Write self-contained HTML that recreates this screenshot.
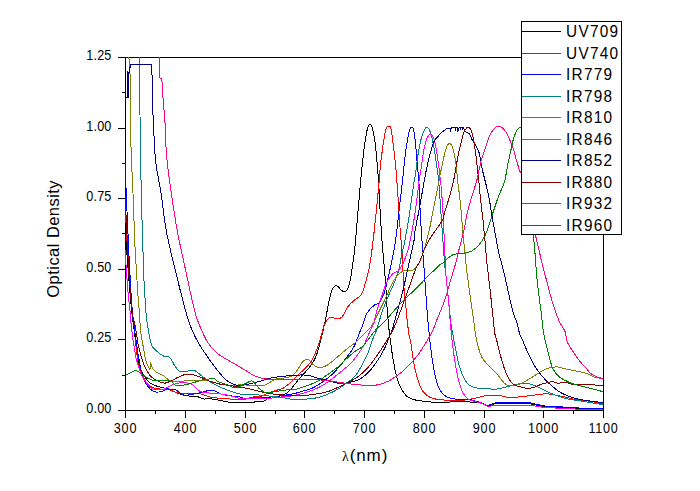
<!DOCTYPE html>
<html lang="en">
<head>
<meta charset="utf-8">
<title>Optical Density vs wavelength</title>
<style>
html,body{margin:0;padding:0;background:#fff;}
body{width:700px;height:491px;overflow:hidden;}
svg{display:block;}
</style>
</head>
<body>
<svg width="700" height="491" viewBox="0 0 700 491">
<rect width="700" height="491" fill="#fff"/>
<g fill="#000" shape-rendering="crispEdges">
<rect x="125" y="57" width="1" height="354"/>
<rect x="603" y="57" width="1" height="354"/>
<rect x="118" y="57" width="486" height="1"/>
<rect x="118" y="410" width="486" height="1"/>
<rect x="122" y="375" width="3" height="1"/>
<rect x="118" y="339" width="7" height="1"/>
<rect x="122" y="304" width="3" height="1"/>
<rect x="118" y="269" width="7" height="1"/>
<rect x="122" y="233" width="3" height="1"/>
<rect x="118" y="198" width="7" height="1"/>
<rect x="122" y="163" width="3" height="1"/>
<rect x="118" y="128" width="7" height="1"/>
<rect x="122" y="92" width="3" height="1"/>
<rect x="125" y="411" width="1" height="7"/>
<rect x="155" y="411" width="1" height="3"/>
<rect x="185" y="411" width="1" height="7"/>
<rect x="215" y="411" width="1" height="3"/>
<rect x="245" y="411" width="1" height="7"/>
<rect x="275" y="411" width="1" height="3"/>
<rect x="304" y="411" width="1" height="7"/>
<rect x="334" y="411" width="1" height="3"/>
<rect x="364" y="411" width="1" height="7"/>
<rect x="394" y="411" width="1" height="3"/>
<rect x="424" y="411" width="1" height="7"/>
<rect x="454" y="411" width="1" height="3"/>
<rect x="484" y="411" width="1" height="7"/>
<rect x="513" y="411" width="1" height="3"/>
<rect x="543" y="411" width="1" height="7"/>
<rect x="573" y="411" width="1" height="3"/>
<rect x="603" y="411" width="1" height="7"/>
</g>
<g fill="none" stroke-width="1" stroke-linejoin="round" shape-rendering="crispEdges">
<path stroke="#000000" d="M125.5,186C125.6,195.7 125.7,205.3 125.8,215C125.9,223.3 126,231.7 126.3,240C126.5,246 126.8,252 127.2,258C127.5,263.3 128.1,268.7 128.5,274C129,280.3 129.4,286.7 130,293C130.6,300 131.2,307 132,314C132.6,319.3 133.5,324.7 134.2,330C135.1,336.7 135.6,343.4 136.6,350C137.4,355.4 138.4,360.8 139.7,366C140.3,368.4 141.4,370.8 142.5,373C143.4,374.8 144.5,376.4 145.7,378C146.7,379.4 147.8,380.8 149,382C150.1,383 151.3,383.9 152.6,384.5C155.3,385.7 158.3,386.7 161.2,387.5C164,388.3 167,388.3 169.7,389.2C171.2,389.7 172.5,390.8 174,391.5C175.4,392.2 176.8,393 178.3,393.5C181.7,394.5 185.1,395.4 188.6,396C191.4,396.5 194.4,396.1 197.2,396.6C199.5,397.1 201.7,398.6 204,399C205.7,399.3 207.5,398.5 209.2,398.6C212.1,398.8 214.9,399.5 217.8,400C221.2,400.6 224.6,401.6 228,402C232,402.4 236,402.2 240,402.4C241.5,402.5 242.9,403 244.4,402.9C248.7,402.7 253,402.2 257.3,401.7C260,401.4 263.2,401.6 265.5,400.6C266.4,400.2 265.8,398 266.7,397.7C270.5,396.5 275.4,396.9 279.6,396C282,395.5 284.4,394.7 286.4,393.4C288.4,392.1 290,390.1 291.6,388.3C294,385.6 296,382.5 298.4,379.7C300.6,377.1 303,374.6 305.3,372C307,370 308.9,368.1 310.4,366C312.3,363.3 314.3,360.5 315.6,357.4C317.5,353 318.6,348.3 319.9,343.7C320.9,340.3 321.6,336.8 322.4,333.4C323.5,328.5 324.7,323.5 325.7,318.6C326.6,314 327.3,309.4 328.3,304.9C329.3,300.2 330.1,295.5 331.7,291C332.4,289.1 333.6,286.8 335,285.7C335.6,285.2 337,285.8 337.7,286.3C339.3,287.5 340.3,289.9 342,290.8C343.2,291.4 345.5,291.7 346.3,290.8C348,289 349,285.5 349.7,282.6C351,277.5 351.5,272.2 352.3,267C353.1,261.3 354,255.7 354.6,250C355.6,241 356.2,231.9 357,222.9C357.8,213.3 358.7,203.6 359.5,194C360.1,187.7 360.6,181.3 361.2,175C362.1,166.5 362.9,157.9 364,149.4C364.7,143.7 365.5,138 366.6,132.3C367,130.3 367.5,128.2 368.3,126.3C368.6,125.6 369.4,124.6 370,124.6C370.6,124.6 371.5,125.6 371.7,126.3C372.9,129.8 373.6,133.7 374.3,137.4C375.1,141.9 375.5,146.5 376,151C376.7,157.3 377.2,163.7 377.7,170C378.1,175 378.5,180 378.8,185C379.4,194.8 379.7,204.5 380.3,214.3C381,225.7 381.7,237.2 382.6,248.6C383,253.7 383.6,258.9 384,264C384.6,270.8 385.2,277.5 385.7,284.3C386.1,290 386.2,295.7 386.6,301.4C387.1,308.3 387.7,315.1 388.3,322C388.7,326 389,330 389.5,334C389.9,337.8 390.4,341.6 391,345.4C391.8,351.1 392.6,356.9 393.7,362.6C394.6,367.8 395.5,373 397,378C398.1,381.8 399.6,385.5 401.4,389C402.8,391.5 404.5,394.1 406.6,396C408.5,397.6 411,398.7 413.4,399.5C416.1,400.4 419.1,400.6 422,401C424.9,401.4 427.7,401.9 430.6,402C437.1,402.2 443.5,402 450,402C456.7,402 463.3,401.8 470,402C474,402.2 478.1,402.3 482,403.2C483.9,403.6 485.5,405.4 487.3,405.8C488.4,406 489.6,405.3 490.7,405C492.4,404.6 494.1,403.9 495.9,403.8C501.6,403.4 507.3,403.5 513,403.5C518.7,403.5 524.4,403.3 530,403.8C533.5,404.1 536.9,405.3 540.4,405.8C543.8,406.3 547.3,406.7 550.7,407C556.4,407.5 562.2,407.8 567.9,408.2C573.6,408.6 579.3,409 585,409.3C591,409.6 597,409.8 603,410"/>
<path stroke="#ff0000" d="M125.5,214C125.8,218.7 126,223.3 126.3,228C126.6,234 126.9,240 127.3,246C127.7,251.3 128.2,256.7 128.6,262C128.9,266 129.2,270 129.5,274C130,281 130.5,288 131,295C131.6,302 132.1,309 132.8,316C133.3,321.3 134.2,326.7 134.8,332C135.7,340.7 136.3,349.4 137.3,358C137.6,360.7 138,363.5 138.9,366C140.8,371.3 142.7,376.8 145.7,381.5C147.3,384 150,386.2 152.6,387.5C155.1,388.8 158.3,388.8 161.2,389.2C164,389.6 166.9,389.4 169.7,390C172.1,390.5 174.2,392 176.6,392.6C179.4,393.3 182.3,393.7 185.2,393.8C188.6,394 192.1,393.4 195.5,393.5C197.8,393.6 200.1,393.8 202.3,394.3C204.7,394.9 206.8,396.3 209.2,396.9C212.6,397.7 216.1,397.9 219.5,398.3C222.9,398.6 226.4,398.8 229.8,399C233.2,399.2 236.6,399.4 240,399.5C241.7,399.5 243.4,399.6 245,399.3C247.4,398.8 249.6,397.7 252,397.2C255.4,396.6 259,396.8 262.4,396C263.9,395.6 265.2,394.4 266.7,393.8C269.2,392.7 271.8,391.8 274.4,390.9C277.2,389.9 280.4,389.6 283,388.3C285.5,387 287.7,384.9 289.9,383C292.3,380.9 294.4,378.5 296.7,376.3C299,374.1 301.4,372 303.6,369.8C305.9,367.5 308.6,365.3 310.4,362.6C312.6,359.5 314.1,355.8 315.6,352.3C317.3,348.4 318.6,344.3 319.9,340.3C321,336.9 321.9,333.4 322.8,330C323.2,328.5 323.3,326.8 324,325.4C325.2,323 326.5,320.5 328.3,318.6C329.1,317.7 330.5,317.2 331.7,317.2C333.7,317.3 335.8,319.1 337.7,319C339.2,319 341,318.1 342,316.9C344.4,314 345.6,309.8 348,306.6C349.9,304 352.5,301.8 354.9,299.7C356.8,298.1 359.6,297.4 360.9,295.4C363,292.2 363.8,288.1 365,284.3C366.4,279.8 367.6,275.2 368.6,270.6C369.6,266.1 370.3,261.5 371,256.9C371.6,252.9 372.1,249 372.6,245C373.8,234.8 374.9,224.5 376,214.3C377,204.5 377.9,194.8 378.8,185C379.4,178.9 379.7,172.7 380.3,166.6C381,159.7 381.9,152.8 382.9,146C383.6,141.1 384.4,136.2 385.4,131.4C385.7,129.8 386.2,128.1 387,126.8C387.3,126.4 388,126.3 388.5,126.3C389.2,126.3 390.4,126.3 390.6,127C391.9,131.8 392.3,137.4 393,142.6C394,150.6 394.9,158.6 395.7,166.6C396.2,171.1 396.5,175.5 396.8,180C397.2,185.7 397.6,191.3 398,197C398.4,202.8 398.6,208.5 399,214.3C399.7,224.5 400.7,234.8 401.4,245C401.9,251.3 402.2,257.7 402.6,264C403,270.8 403.2,277.5 403.7,284.3C404.1,290 404.9,295.7 405.4,301.4C406,307.1 406.4,312.9 407,318.6C407.6,323.7 408.1,328.9 408.9,334C409.4,337.3 410.4,340.4 410.9,343.7C411.9,349.4 412.4,355.2 413.4,360.9C414.4,366.1 415.5,371.2 416.9,376.3C418,380.4 419.1,384.6 421,388.3C422.3,390.8 424.2,393.2 426.3,395C428,396.5 430.2,397.5 432.3,398.2C435,399.1 438,399.5 440.9,399.8C444.9,400.2 448.9,400.3 452.9,400.3C456.9,400.3 461,400.3 465,400C467.9,399.8 470.8,399.2 473.6,398.6C476.4,398 479.2,397.1 482,396.5C484.3,396 486.6,395.3 489,395.2C492.4,395 495.9,395.1 499.3,395.5C502.8,395.9 506.1,397.4 509.6,397.7C511.8,397.9 514.1,397.4 516.4,397.2C519.8,396.9 523.3,396.4 526.7,396C530.1,395.6 533.6,395.2 537,394.8C540.4,394.4 543.9,393.7 547.3,393.8C550.2,393.9 553,394.7 555.9,395.2C558.7,395.7 561.6,396.3 564.4,396.9C567.8,397.7 571.2,398.8 574.7,399.4C578.1,400 581.6,400.1 585,400.6C591,401.5 597,402.6 603,403.6"/>
<path stroke="#0000ff" d="M125,163C125.5,175.3 126,187.7 126.5,200C127,211.3 127.5,222.7 128,234C128.6,247.7 129.2,261.3 130,275C130.7,288 131.4,301 132.5,314C132.9,319.4 133.9,324.7 134.6,330C135.8,338.7 136.9,347.4 138.4,356C139.6,362.8 140.6,369.7 142.6,376.3C143.6,379.6 145.4,382.9 147.4,385.7C149,387.9 151.1,390.1 153.4,391.4C154.8,392.2 156.9,392.2 158.6,392C160.6,391.8 162.8,391.2 164.6,390.4C165.6,390 166.1,388.4 167,388.3C168.4,388.2 170,389.8 171.5,390C172.9,390.2 174.5,389.2 175.7,389.7C178.5,390.9 180.6,394.4 183.5,395.2C186.1,395.9 189.2,394.7 192,394.3C194.9,393.9 197.8,393.2 200.6,392.6C203.5,391.9 206.3,390.9 209.2,390.4C210.6,390.2 212.2,390 213.5,390.4C215.6,391 217.4,392.8 219.5,393.5C222.2,394.5 225.1,395 228,395.5C232,396.2 236.1,396.2 240,396.9C241.8,397.2 243.5,398.5 245.3,398.6C248.7,398.8 252.2,397.9 255.6,397.7C259,397.5 262.5,397.4 265.9,397.2C270.5,396.9 275.1,396.6 279.6,396C284.2,395.4 288.8,394.8 293.3,393.8C296.8,393.1 300.2,391.9 303.6,390.9C306.4,390.1 309.3,389.5 312,388.3C315,386.9 317.9,385.1 320.7,383.2C324.3,380.8 327.8,378.3 331,375.4C334.7,372 338.1,368.2 341.3,364.3C344.9,359.9 348.3,355.3 351.6,350.6C352.9,348.7 354.1,346.7 355,344.6C356.5,341.2 357.6,337.5 359,334C360.1,331.1 361.5,328.3 362.6,325.4C363.9,322 364.5,318.3 366,315C367,312.8 368.7,310.9 370.3,309C371.6,307.5 373,306.1 374.6,305C375.9,304.1 377.8,304.1 378.9,303C380.6,301.2 381.9,298.7 383,296.3C384.2,293.6 384.9,290.6 385.7,287.7C386.9,283.2 387.9,278.6 389,274C389.9,270 390.9,266 391.7,262C392.5,258 393.3,254 394,250C394.6,246.7 395.3,243.4 395.7,240C396.9,230.3 397.9,220.6 399,210.9C400.2,200.6 401.4,190.3 402.6,180C403,176.7 403.2,173.3 403.6,170C404.4,163.1 405,156.2 406,149.4C406.7,144.2 407.6,139.1 408.6,134C409,132.1 409.5,130.2 410.3,128.5C410.5,128 411.2,127.4 411.7,127.5C412.3,127.6 413.2,128.2 413.4,128.9C414.5,133.2 414.9,138 415.4,142.6C416.1,148.8 416.4,155.1 417,161.4C417.6,168.3 418.5,175.1 418.9,182C419.6,192.8 419.7,203.5 420.3,214.3C420.9,224.5 421.6,234.8 422.3,245C422.7,251.3 423.2,257.7 423.7,264C424,267.9 424.3,271.8 424.6,275.7C425.4,287.1 426.1,298.6 427,310C427.6,318 428.4,326 429.2,334C429.6,338.3 430.1,342.7 430.6,347C431.3,352.8 432.1,358.6 433,364.3C433.8,368.9 434.6,373.5 435.7,378C436.6,381.5 437.5,385.1 439,388.3C440,390.5 441.7,392.6 443.4,394.3C444.9,395.7 446.7,396.9 448.6,397.7C450.5,398.5 452.6,398.8 454.6,399C459.7,399.4 464.9,398.9 470,399.4C471.8,399.6 473.5,400.7 475.3,401.2C477.5,401.8 479.8,402.1 482,402.9C483.8,403.5 485.5,405 487.3,405.4C488.4,405.6 489.6,404.9 490.7,404.6C492.4,404.1 494.1,403.1 495.9,402.9C501.5,402.3 507.3,402.3 513,402.3C518.7,402.3 524.4,402.4 530,402.9C532,403.1 534,403.8 536,404.2C539,404.8 542,405.7 545,406C550,406.5 555,406.5 560,406.8C565,407.1 570,407.5 575,407.8C580,408.1 585,408.3 590,408.5C594.3,408.7 598.7,408.8 603,409"/>
<path stroke="#008080" d="M139.3,57C139.4,71 139.3,85 139.5,99C139.6,104.3 139.9,109.7 140,115C140.2,126.7 140.3,138.3 140.5,150C140.7,163.3 140.9,176.7 141.2,190C141.5,204 142,218 142.4,232C142.8,244 143.1,256 143.5,268C143.8,275.7 144.1,283.3 144.5,291C144.7,295.5 145.2,300 145.5,304.5C145.8,308.7 145.9,312.9 146.4,317C146.9,321.4 147.5,325.7 148.3,330C149.3,335.2 149.9,340.6 151.7,345.4C152.5,347.5 154.3,349.1 156,350.6C158.6,352.9 161.5,355.1 164.6,356.6C166.1,357.3 168.5,356.3 169.7,357.4C172,359.5 173,363.3 174.9,366C176.4,368.1 178,370.6 180,371.7C181.3,372.4 183.3,371.7 185,371.5C187.3,371.2 189.7,370.4 192,370.3C193.2,370.2 194.5,370.4 195.5,371C197.9,372.4 200,374.6 202.3,376.3C205.1,378.4 208,380.5 211,382.3C214.9,384.5 218.9,386.5 223,388.3C226.9,390 231,391.3 235,392.6C237.8,393.5 240.7,394.5 243.6,394.8C247.5,395.2 251.6,394.6 255.6,394.8C260.2,395 264.7,395.5 269.3,396C273.9,396.5 278.4,397 283,397.7C286.4,398.2 289.8,399.3 293.3,399.5C297.8,399.7 302.4,399.3 307,399C310.4,398.7 313.9,398.5 317.3,397.7C320.8,396.9 324.3,395.7 327.6,394.3C331.1,392.8 334.6,391.1 337.9,389.2C340.9,387.4 343.6,385.2 346.4,383.2C348.3,381.8 350.3,380.6 352,379C353.8,377.4 355.6,375.7 356.9,373.7C359.5,369.9 361.6,365.8 363.7,361.7C365.6,358.1 367.4,354.4 368.9,350.6C370.2,347.3 371,343.7 372.3,340.3C373.6,336.8 375.3,333.5 376.6,330C377.5,327.4 378.1,324.6 378.9,322C380.5,316.8 382.1,311.7 384,306.6C385.5,302.5 387.3,298.6 389,294.6C390.7,290.6 392.7,286.7 394.3,282.6C395.9,278.7 397.5,274.7 398.6,270.6C399.7,266.7 400.2,262.6 401,258.6C401.6,255.7 402.3,252.9 402.9,250C403.6,246.7 404.4,243.4 405,240C406.6,231.5 408.1,222.9 409.4,214.3C411.2,202.9 412.6,191.4 414.3,180C414.6,178.3 415.2,176.7 415.4,175C416.4,168.2 416.9,161.4 418,154.6C418.9,148.8 420,143 421.5,137.4C422.3,134.6 423.4,131.7 424.8,129.2C425.3,128.3 426.7,127.1 427.4,127.4C428.4,127.8 429.5,129.9 430,131.4C431.5,135.5 432.5,139.9 433.4,144.3C434.5,149.9 435.2,155.7 436,161.4C436.9,167.6 438,173.8 438.6,180C439.7,191.4 440.2,202.9 441,214.3C441.6,222.9 442.3,231.4 442.9,240C443.5,248 443.9,256 444.6,264C444.9,267.9 445.6,271.8 446,275.7C446.9,284.3 447.7,292.8 448.6,301.4C449.4,308.9 450.1,316.5 451,324C451.3,326.7 451.9,329.3 452.4,332C453.1,335.9 453.8,339.8 454.6,343.7C455.7,349.4 456.6,355.2 458,360.9C459.2,365.5 460.5,370.2 462.3,374.6C463.4,377.3 464.9,379.9 466.6,382.3C467.5,383.6 468.6,384.9 470,385.7C472.1,386.8 474.6,387.6 477,388C480.4,388.6 483.9,388.4 487.3,388.6C490.2,388.8 493.1,389.4 495.9,389.2C498.8,389 501.6,388.1 504.4,387.4C507.3,386.7 510.1,385.8 513,385.2C516.4,384.4 519.9,383.4 523.3,383.2C525.5,383 527.8,383.4 530,384C533,384.8 535.9,386.1 538.7,387.4C541.6,388.7 544.4,390.4 547.3,391.7C550.7,393.2 554.1,394.8 557.6,396C561,397.2 564.4,398.2 567.9,399C571.2,399.7 574.6,400.1 578,400.6C580.3,401 582.7,401.3 585,401.7C591,402.7 597,403.6 603,404.6"/>
<path stroke="#ff00ff" d="M125,250C125.5,257.3 126,264.7 126.5,272C127.1,279.7 127.6,287.3 128.3,295C128.9,301.3 129.7,307.7 130.3,314C130.8,319.3 131,324.7 131.7,330C133,339.7 134.2,349.5 136.3,359C137.5,364.3 139.2,369.6 141.4,374.6C142.9,378 145.1,381.2 147.4,384C149.1,386 151,388.3 153.4,389.2C156.2,390.2 159.9,390.1 162.9,389.7C164.4,389.5 165.6,388.2 167,387.5C169,386.5 170.9,385.3 173,384.5C175.2,383.7 177.6,383 180,382.8C182.8,382.6 185.8,382.7 188.6,383.2C190.2,383.5 191.7,384.3 193,385.2C195.7,387.1 197.7,390.3 200.6,391.7C203.1,392.9 206.2,392.7 209,393C213.7,393.5 218.4,393.6 223,394.3C226.4,394.8 229.7,395.7 233,396.5C235.3,397.1 237.6,398 240,398.4C242.9,398.9 245.8,399 248.7,399C254.4,399 260.2,398.9 265.9,398.6C270.5,398.3 275,397.7 279.6,397.2C284.2,396.7 288.8,396.5 293.3,395.7C296.8,395.1 300.2,394 303.6,393C307.1,392 310.6,391.1 313.9,389.7C317.4,388.2 320.8,386.5 324,384.5C327.6,382.3 331,379.6 334.4,377C337.9,374.3 341.3,371.4 344.7,368.6C346.5,367.2 348.4,365.9 350,364.3C352.5,361.6 354.7,358.7 356.9,355.7C359.3,352.4 361.8,349 363.7,345.4C366.3,340.5 368.2,335.1 370.6,330C371.6,327.9 373,325.9 373.7,323.7C375.1,319.3 375.7,314.5 377,310C378,306.5 379.4,303.1 380.6,299.7C381.8,296.3 382.8,292.8 384,289.4C385,286.5 385.9,283.5 387.4,280.9C388.8,278.4 390.5,275.9 392.6,274C394.3,272.5 397,272.2 398.6,270.6C400.5,268.7 401.7,266.1 402.9,263.7C404.3,260.9 405.2,257.9 406.3,255C406.9,253.4 407.5,251.7 408,250C408.9,246.7 409.7,243.4 410.3,240C412.1,230.3 414,220.6 415.4,210.9C416.9,200.6 417.8,190.3 419.2,180C419.6,177.2 420.2,174.5 420.6,171.7C421.8,164.3 422.5,156.8 424,149.4C424.8,145.3 425.7,141 427.4,137.4C428,136 429.9,134.3 431,134.3C431.9,134.3 433,136.2 433.4,137.4C434.6,140.7 435.3,144.2 436,147.7C437.1,153.4 437.8,159.2 438.6,164.9C439.3,169.9 439.7,175 440.3,180C440.5,181.8 440.8,183.6 441,185.4C441.6,192.2 442.2,198.9 442.6,205.7C443.3,217.1 443.8,228.6 444.3,240C444.7,248 445,256 445.4,264C445.6,267.9 445.7,271.8 446,275.7C446.7,284.3 447.8,292.8 448.6,301.4C449.5,310.9 450.1,320.5 451,330C451.5,335.7 452.2,341.3 452.9,347C453.6,352.8 454.4,358.6 455.4,364.3C456.4,370 457.5,375.8 458.9,381.4C459.8,384.9 460.8,388.5 462.3,391.7C463.3,393.9 465,395.9 466.6,397.7C467.5,398.7 468.8,399.4 470,400C471.6,400.7 473.3,401 475,401.5C477.3,402.2 479.7,402.6 482,403.5C483.8,404.2 485.5,405.7 487.3,406.2C488.4,406.5 489.6,406.1 490.7,406C492.4,405.8 494.2,405.5 495.9,405.4C501.6,405.2 507.3,405.2 513,405.2C518.7,405.2 524.4,405 530,405.4C533.5,405.6 536.9,406.5 540.4,406.9C543.8,407.3 547.3,407.5 550.7,407.7C556.4,408.1 562.2,408.4 567.9,408.7C573.6,409 579.3,409.2 585,409.4C591,409.6 597,409.7 603,409.8"/>
<path stroke="#808000" d="M128.5,57C128.8,58.7 129.4,60.3 129.5,62C130,68.6 130.1,75.3 130.2,82C130.4,97.2 130.3,112.3 130.5,127.5C130.7,138.7 131.1,149.8 131.5,161C131.7,167.7 132.2,174.3 132.5,181C132.9,189 133.2,197 133.5,205C133.9,215.3 134.1,225.7 134.5,236C134.8,242.5 135.1,249 135.5,255.5C135.8,260.8 136.2,266.2 136.5,271.5C136.8,277 137.1,282.5 137.5,288C137.8,292.7 138.1,297.3 138.5,302C138.8,306 139.2,310 139.5,314C139.9,319.3 139.9,324.7 140.5,330C141.2,335.7 142.3,341.3 143.3,347C144.1,351.7 144.8,356.4 146,361C146.7,363.5 147.9,365.9 149,368.3C149.2,368.8 149.7,369.1 150,369.5L150,369.5 L150.5,363 L152.6,368.6L152.6,368.6C154,369.9 155.3,371.4 156.9,372.5C159,373.9 161.6,374.6 163.7,376C165.8,377.3 167.5,379.6 169.7,380.6C171.8,381.5 174.3,381.5 176.6,381.5C180.6,381.5 184.6,380.8 188.6,380.6C192.6,380.5 196.6,380.5 200.6,380.6C203.5,380.7 206.4,380.5 209.2,381C212.7,381.6 216,383.3 219.5,384C222.9,384.7 226.4,385 229.8,385.2C233.2,385.3 236.6,385.1 240,384.9C240.6,384.9 241.3,384.5 241.9,384.5C245.3,384.7 248.6,385.5 252,385.7C255.5,385.9 259,386.3 262.4,385.7C264.8,385.3 267.1,383.9 269.3,382.8C271.6,381.6 273.6,379.6 276,378.9C279.3,377.9 283,378.5 286.4,377.7C288.8,377.2 291.4,376.4 293.3,375C295.4,373.4 296.8,370.8 298.4,368.6C299.7,366.7 300.5,364.4 301.9,362.6C302.8,361.5 304,360.5 305.3,360C306.3,359.6 307.8,359.5 308.7,360C310,360.7 310.8,362.3 312,363.4C313.1,364.4 314.2,365.6 315.6,366.3C317.1,367.1 319,367.9 320.7,367.7C323,367.4 325.5,366.3 327.6,365C331.3,362.6 334.5,359.4 337.9,356.6C341.3,353.8 344.6,350.8 348,348C350.3,346.2 352.8,344.7 355,342.9C356.3,341.8 357.4,340.6 358.6,339.4C361.7,336.3 364.9,333.2 368,330C369.4,328.5 371,327.1 372,325.4C374.6,321 376.6,316.3 378.9,311.7C381.2,307.1 383.5,302.6 385.7,298C387.5,294.1 389,289.9 390.9,286C392.4,283 393.9,279.9 396,277.4C398.1,274.9 400.7,272.1 403.6,270.8C406.1,269.7 409.4,270.8 412.1,270.3C413.2,270.1 414.4,269.5 415.1,268.6C417.2,266 419.2,263.1 420.7,260C422,257.3 422.4,254.2 423.3,251.4C423.8,249.9 424.6,248.6 425,247.1C425.8,244.3 426.4,241.4 427.1,238.6C427.8,235.7 428.7,232.9 429.3,230C430.8,223 432,216 433.4,209C434.4,204 435.5,199 436.5,194C437.8,187.3 439,180.7 440.3,174C441.4,168.7 442.5,163.3 443.7,158C444.5,154.5 445,150.9 446.3,147.7C446.9,146.1 448.3,143.5 449.4,143.4C450.3,143.3 451.7,145.5 452.3,146.9C453.5,149.8 454.2,153.1 454.8,156.3C455.6,160.3 456,164.3 456.5,168.3C456.9,172.2 457.1,176.1 457.5,180C458.1,185.7 459.1,191.3 459.7,197C460.4,202.8 460.9,208.5 461.4,214.3C462,221.2 462.4,228 463,234.9C463.5,240.6 464.3,246.3 464.9,252C465.3,256 465.6,260 466,264C466.4,267.9 466.9,271.8 467.4,275.7C468.5,284.3 469.7,292.8 470.9,301.4C471.7,307.1 472.6,312.9 473.4,318.6C474.1,323.7 474.6,328.9 475.5,334C476.1,337.8 476.9,341.7 477.9,345.4C479,349.5 480,353.7 482,357.4C483.7,360.6 486.5,363.3 489,366C491.7,369 494.9,371.6 497.6,374.6C500,377.3 501.8,380.8 504.4,383.2C505.8,384.5 507.8,385.4 509.6,385.7C511.8,386.1 514.2,385.8 516.4,385.2C519.4,384.4 522.2,382.8 525,381.4C528,379.9 530.8,378 533.6,376.3C536.4,374.6 539.1,372.6 542,371C544.2,369.8 546.6,368.6 549,368C551.8,367.3 554.8,366.8 557.6,366.9C559.9,367 562.1,368.1 564.4,368.6C567.8,369.4 571.3,370.1 574.7,370.8C578.1,371.5 581.7,371.8 585,372.9C588.2,373.9 591.1,376 594.3,377C597.1,377.9 600.1,378.1 603,378.6"/>
<path stroke="#000080" d="M126,97.5 L127.5,97.5 L127.5,71.5 L127.5,97.5 L128.5,97.5 L128.5,72 L129.5,72 L129.5,67.5 L130.5,67.5 L130.5,64.5 L151.5,64.5 L151.5,75 L152.5,75 L152.5,99L152.5,99C152.7,104.3 152.8,109.7 153,115C153.5,126.7 154.1,138.3 154.8,150C155.1,154.3 155.2,158.7 155.8,163C157.2,173 159.4,183 161,193C163,206 164.1,219.1 166.5,232C169,245.4 172.5,258.7 175.7,272C179.1,286 182.6,300.1 186.5,314C188,319.4 189.8,324.8 192,330C194,334.7 196.3,339.3 198.9,343.7C202,349 205.6,354.1 209.2,359.2C212.5,363.9 215.8,368.5 219.5,372.9C222.1,376 224.8,379.2 228,381.5C230.5,383.3 233.7,384.2 236.6,385.2C237.7,385.6 238.9,385.8 240,385.7C242.9,385.4 245.8,384.7 248.7,384C252.7,383.1 256.7,382 260.7,381C264.7,379.9 268.6,378.5 272.7,377.7C277.2,376.8 281.8,376.5 286.4,376C290.9,375.6 295.5,375.1 300,375C302.9,374.9 305.9,374.9 308.7,375.4C311.6,375.9 314.4,377.2 317.3,378C320.7,378.9 324.2,379.7 327.6,380.6C331,381.5 334.4,382.7 337.9,383.2C340.7,383.6 343.7,383.7 346.5,383.5C347.7,383.4 348.8,382.7 350,382.3C352.9,381.4 356,381 358.6,379.7C361.6,378.2 364.5,376.1 367,373.7C370.2,370.6 373.1,367.1 375.7,363.4C378.9,358.8 381.7,353.9 384.3,348.9C386.3,345 387.8,340.9 389.4,336.9C390.3,334.6 391.2,332.3 392,330C392.5,328.5 393,326.9 393.4,325.4C394.9,320.3 396.3,315.1 397.7,310C399.4,303.7 401.3,297.4 402.9,291C404.4,284.8 405.6,278.5 407,272.3C408.1,267.2 409.2,262 410.4,256.9C410.9,254.6 411.5,252.3 412,250C412.7,246.7 413.6,243.4 414.1,240C414.6,236.7 414.6,233.3 415.2,230C416.4,223 418,216 419.3,209C421.1,199.3 422.6,189.7 424.4,180C425.3,175 426.3,169.9 427.4,164.9C428.4,160.2 429.6,155.6 430.9,151C431.9,147.6 432.7,144 434.3,140.9C435.3,138.9 437.1,137.4 438.6,135.7C440,134.2 441.4,132.7 442.9,131.4C444.2,130.3 445.6,129.5 447,128.5L447,128.5 L450,128 L450.6,131.3 L451.2,128 L455,127.5 L455.5,131 L456,127.5 L457,127.5 L457.5,131.3 L458,127.5 L458.5,131 L459,128 L460,127.5 L460.5,129.5 L461,127.5 L462,127.5 L462.5,130 L463,127.5 L464,129 L464.5,131 L465,131.5L465,131.5C465.5,131.7 466,131.9 466.5,132.2C467.5,132.8 468.7,133.1 469.4,134C470.6,135.6 471,137.7 472,139.5C473.1,141.6 474.5,143.4 475.6,145.5C476.8,147.8 478.3,150 479,152.5C480.4,157.6 480.9,163.1 482,168.3C483,172.9 484.3,177.4 485.4,182C486.6,187 487.9,192 488.9,197C490.2,203.9 491.1,210.8 492.3,217.7C493.4,224 494.5,230.3 495.7,236.6C496.8,242.3 497.7,248 499,253.7C500,258.2 501.5,262.5 502.6,267C504.4,274.4 506,281.9 507.7,289.4C509.4,296.8 510.9,304.4 512.9,311.7C514,315.8 516,319.6 517.2,323.7C518.2,327.1 518.6,330.7 519.7,334C520.6,336.8 522.1,339.3 523.3,342C525,346 526.5,350.1 528.4,354C530.5,358.4 532.7,362.8 535.3,366.9C537.3,370.2 539.7,373.4 542.2,376.3C544.8,379.4 547.7,382.2 550.7,384.9C553.4,387.3 556.2,389.7 559.3,391.7C562,393.4 564.9,394.8 567.9,396C570.6,397.1 573.5,397.9 576.4,398.6C579.2,399.3 582.1,399.9 585,400.3C591,401.2 597,401.8 603,402.6"/>
<path stroke="#800000" d="M125.5,196C125.7,202.3 125.8,208.7 126,215C126.3,221.7 126.7,228.3 127,235C127.6,247.3 127.9,259.7 128.8,272C129.8,286 131,300 132.5,314C132.8,316.7 133.8,319.3 134.3,322C135.1,325.7 135.8,329.3 136.4,333C137,336.8 137.4,340.6 138.1,344.3C138.8,347.8 139.7,351.2 140.7,354.6C141.8,358.4 142.9,362.4 144.5,366C146,369.3 147.7,372.8 150,375.5C151.8,377.6 154.4,379.3 156.9,380.6C159.3,381.8 162,383.2 164.6,383.2C166.9,383.2 169.3,381.6 171.5,380.6C173.8,379.6 176,378.2 178.3,377.2C180.8,376.1 183.4,374.8 186,374.3C187.9,373.9 190.1,374.1 192,374.5C194.9,375.1 197.8,376.1 200.6,377.2C203.5,378.3 206.3,379.9 209.2,381C212.6,382.2 216,383.3 219.5,384C223.4,384.8 227.5,385 231.5,385.7C234.4,386.2 237.1,387 240,387.5C242.3,387.9 244.7,387.8 247,388.3C250.5,389 253.8,390.1 257.3,390.9C261.3,391.8 265.3,392.7 269.3,393.4C272.7,394 276.2,394.5 279.6,394.8C284.2,395.2 288.7,395.4 293.3,395.5C297.9,395.6 302.5,395.5 307,395.2C310.5,395 313.9,394.4 317.3,393.8C320.8,393.2 324.3,392.7 327.6,391.7C331.1,390.6 334.5,388.9 337.9,387.4C340.8,386.1 343.6,384.6 346.4,383.2C347.6,382.6 348.8,382.1 350,381.4C352.9,379.8 356,378.3 358.6,376.3C361.6,374 364.5,371.4 367,368.6C370.2,365.1 372.9,361.2 375.7,357.4C378.7,353.2 381.6,349 384.3,344.6C387.3,339.8 390.3,335 392.9,330C394.8,326.3 396.2,322.4 397.7,318.6C400.1,312.3 402.3,306 404.6,299.7C406.9,293.4 409.1,287.2 411.4,280.9C413.1,276.3 414.6,271.5 416.6,267C417.5,264.9 419.1,263.1 420,261C421.5,257.5 422.5,253.8 424,250.3C425.5,246.8 427.1,243.3 429,240C431.1,236.4 433.7,233.1 436,229.7C438.3,226.3 441.1,223.1 442.9,219.4C444.1,216.8 444.2,213.7 445,210.9C446.4,206.2 448.1,201.7 449.4,197C450.7,192.5 451.8,187.9 452.9,183.4C453.3,181.8 453.7,180.2 454,178.6C455.1,172.6 456,166.5 457.2,160.5C458.2,155.1 459.3,149.7 460.6,144.3C461.6,140.3 462.6,136.2 464,132.3C464.6,130.7 465.6,129.2 466.6,128C467,127.5 467.8,127 468.3,127.2C469.2,127.6 470.4,128.6 470.9,129.7C472.1,132.6 472.8,135.9 473.4,139C474.5,144.7 475.2,150.5 476,156.3C476.7,161.4 477.1,166.6 477.7,171.7C478.3,176.8 478.9,181.9 479.4,187C479.7,190.3 479.9,193.7 480.3,197C481.1,204.5 482.1,211.9 482.9,219.4C483.6,226.3 484.3,233.1 484.9,240C485.6,248 486.2,256 487,264C487.3,266.8 487.7,269.5 488,272.3C488.9,279.7 489.8,287.2 490.6,294.6C491.5,302.6 492.3,310.6 493.2,318.6C493.8,323.7 494.1,328.9 494.9,334C495.2,336.1 496.1,338.2 496.7,340.3C498.2,346 499.4,351.8 501,357.4C502.5,362.6 503.9,367.9 506,372.9C507.5,376.5 509.4,380.4 512,383.2C513.4,384.8 515.9,385.5 518,386.2C520.8,387.2 523.8,388.1 526.7,388.3C529,388.5 531.4,388 533.6,387.4C536.5,386.6 539.1,384.9 542,384C545.4,383 548.9,382 552.4,381.8C554.1,381.7 555.8,383.1 557.6,383.2C559.8,383.3 562.2,382.2 564.4,382.3C566.7,382.4 569,383.7 571.3,384C575.8,384.5 580.4,384.3 585,384.5C591,384.8 597,385.1 603,385.4"/>
<path stroke="#ff0080" d="M159.4,57 L159.5,78 L161.5,78 L161.5,82 L162.5,82 L163,97.5L163,97.5C163.8,107.5 164.7,117.5 165.3,127.5C165.6,131.7 165.4,135.8 165.6,140C166,147.7 166.5,155.4 167.3,163C168.5,173.7 170,184.4 171.6,195C173.4,207.4 175.2,219.7 177.5,232C180,245.4 183.1,258.7 186,272C189.1,286 191.8,300.2 195.5,314C197,319.5 199.3,324.8 201.5,330C203.3,334.1 205.1,338.3 207.5,342C209.9,345.7 212.8,349.3 216,352.3C219,355.1 222.8,357 226.3,359.2C229.7,361.3 233.2,363 236.6,365C239.5,366.7 242.4,368.6 245.3,370.3C248.7,372.3 252,374.8 255.6,376.3C258.8,377.7 262.4,378.4 265.9,378.9C270.4,379.5 275,379.3 279.6,379.4C287.6,379.5 295.6,379.3 303.6,379.4C308.2,379.4 312.7,379.4 317.3,379.7C321.9,380 326.5,380.4 331,381C335.6,381.6 340.1,382.5 344.7,383.2C348.1,383.7 351.6,384.1 355,384.5C357.9,384.8 360.8,385.1 363.7,385.2C367.7,385.3 371.8,385.8 375.7,385.2C379.8,384.6 384,383.3 387.7,381.5C392,379.5 395.9,376.6 399.7,373.7C403.4,370.9 406.8,367.6 410,364.3C413.1,361.1 416,357.6 418.6,354C421.6,349.8 424.3,345.4 427,341C429.1,337.4 431.2,333.8 433,330C434.7,326.3 435.9,322.4 437.4,318.6C439.7,312.9 442.3,307.2 444.3,301.4C446.3,295.8 447.7,290 449.4,284.3C451.1,278.5 453,272.8 454.6,267C456.2,261.4 457.5,255.7 458.9,250C460.6,243.2 462.5,236.5 464,229.7C465.3,224 466.1,218.3 467.4,212.6C468.6,207.4 470.2,202.2 471.7,197C473.4,191.3 475.4,185.7 476.9,180C478.5,173.9 479.4,167.5 481,161.4C482.2,156.8 483.9,152.2 485.4,147.7C486.8,143.7 487.9,139.5 489.7,135.7C491,132.9 492.8,130.1 494.9,128C495.9,127 497.7,126.1 499,126.3C500.8,126.6 503,128.2 504.3,129.7C506.2,131.9 507.3,134.8 508.6,137.4C510.2,140.8 511.7,144.2 512.9,147.7C514.3,151.6 515.1,155.7 516.3,159.7C517.4,163.4 518.4,167.2 519.7,170.9C520,171.7 520.8,172.2 521,173C523.6,182.9 525.7,193 528,203C530.4,213.3 532.8,223.7 535.2,234C536.9,241.2 538.5,248.5 540.3,255.7C542.2,263.7 544.2,271.7 546.3,279.7C547.9,286 549.6,292.3 551.4,298.6C552.5,302.4 553.7,306.2 555,310C556.3,313.8 557.6,317.7 559.3,321.4C560.9,324.9 563.6,327.9 565,331.4C566.2,334.5 565.8,338.3 567,341.4C568.4,344.9 570.8,348.2 572.9,351.4C575.1,354.8 577.5,358.2 580,361.4C582.2,364.2 584.7,366.6 587,369.3C588,370.5 588.8,372 590,372.9C592.1,374.5 594.5,375.9 597,377C598.9,377.8 601,378.1 603,378.6"/>
<path stroke="#008000" d="M125.7,375C127.5,374.2 129.2,373.2 131,372.5C132.7,371.8 134.6,370.4 136.3,370.6C138,370.8 139.5,372.5 141,373.5C143.2,374.9 145.1,376.8 147.4,378C149.6,379.1 151.9,380.3 154.3,380.6C159.4,381.3 165.1,379.9 170,381C172.5,381.6 174.1,385.3 176.6,385.7C180.3,386.3 184.7,384.9 188.6,384C193.2,383 197.7,381.1 202.3,380C204.5,379.5 206.8,379.2 209,379C211,378.8 213.2,378.5 215,379C216.1,379.3 216.7,381 217.8,381.5C221.6,383.2 225.8,384.2 229.8,385.7C231.6,386.4 233.3,388.2 235,388C237.9,387.8 240.8,385.7 243.6,384.5C246.2,383.4 248.7,381.5 251.3,381C252.2,380.8 253.2,381.6 253.9,382.3C255.8,384.1 257,386.6 259,388.3C261,390 263.4,392.1 265.9,392.6C269,393.2 272.6,391.8 276,391.4C279.5,391 282.9,390.4 286.4,390C289.8,389.6 293.3,389.7 296.7,389C300.2,388.3 303.6,386.9 307,385.7C310.5,384.4 314.1,383.2 317.3,381.5C320.9,379.5 324.2,377 327.6,374.6C331.1,372.1 334.6,369.7 337.9,366.9C341.4,363.9 344.6,360.5 348,357.4C350.3,355.3 352.5,353.2 355,351.4C357.2,349.8 360,348.8 362,347C364.6,344.6 366.6,341.4 368.9,338.6C371.2,335.8 373.2,332.7 375.7,330C378.8,326.6 382.5,323.7 385.7,320.3C389.9,315.9 393.6,311 397.7,306.6C401.6,302.5 405.7,298.6 409.7,294.6C412.6,291.7 415.7,288.9 418.6,286C421.5,283.1 424.1,279.9 427,277C428.7,275.3 430.5,273.7 432.3,272C433.9,270.5 435.4,269 437,267.5C438.4,266.2 439.7,264.7 441.3,263.6C442.2,263 443.5,263 444.3,262.4C445.2,261.7 445.6,260.4 446.4,259.6C447.5,258.5 448.7,257.4 450,256.5C451.3,255.6 452.6,254.7 454.1,254.4C457.6,253.6 461.4,253.7 464.9,253C467.5,252.5 470.4,251.9 472.6,250.6C475.2,249 477.4,246.6 479.4,244.3C481.4,242 483.3,239.4 484.6,236.6C486.7,232.2 488.1,227.5 489.7,222.9C490.9,219.5 491.9,216 493,212.6C494.7,207.4 496.4,202.1 498.3,197C499.8,192.9 501.8,189 503.4,185C504,183.4 504.6,181.7 505,180C506.1,175 506.7,169.9 507.7,164.9C508.5,160.9 509.4,156.9 510.3,152.9C511.2,148.9 511.8,144.8 512.9,140.9C513.8,137.7 514.9,134.4 516.3,131.4C516.9,130.1 517.9,128.9 518.9,128C519.4,127.6 520.4,127.3 521,127.5C522.1,127.9 523.7,128.8 524,130C526.1,139.6 527,150 528,160C529.3,173.3 530,186.7 531,200C531.8,211.3 532.5,222.7 533.4,234C533.9,241.2 534.6,248.5 535.2,255.7C535.8,263.1 536.2,270.6 536.9,278C537.6,284.9 538.5,291.7 539.4,298.6C540,303.8 540.8,309.1 541.4,314.3C542,319.1 542.2,323.9 542.9,328.6C543.6,333.4 544.6,338.2 545.7,342.9C546.8,347.6 548,352.3 549.3,357C550.3,360.6 550.9,364.4 552.4,367.7C553.7,370.5 555.5,373.2 557.6,375.4C559.5,377.3 561.9,378.7 564.3,380C567.5,381.7 570.9,383.2 574.3,384.3C579,385.8 583.8,386.7 588.6,387.9C593.4,389.1 598.2,390.4 603,391.7"/>
</g>
<g font-family="'Liberation Sans', Arial, sans-serif" font-size="14.5" fill="#000" letter-spacing="0.9">
<text transform="translate(111.6,413.4) scale(0.87,1)" text-anchor="end" letter-spacing="0.25">0.00</text>
<text transform="translate(111.6,342.4) scale(0.87,1)" text-anchor="end" letter-spacing="0.25">0.25</text>
<text transform="translate(111.6,272.4) scale(0.87,1)" text-anchor="end" letter-spacing="0.25">0.50</text>
<text transform="translate(111.6,201.4) scale(0.87,1)" text-anchor="end" letter-spacing="0.25">0.75</text>
<text transform="translate(111.6,131.4) scale(0.87,1)" text-anchor="end" letter-spacing="0.25">1.00</text>
<text transform="translate(111.6,60.4) scale(0.87,1)" text-anchor="end" letter-spacing="0.25">1.25</text>
<text transform="translate(125.5,433.4) scale(0.87,1)" text-anchor="middle">300</text>
<text transform="translate(185.5,433.4) scale(0.87,1)" text-anchor="middle">400</text>
<text transform="translate(245.5,433.4) scale(0.87,1)" text-anchor="middle">500</text>
<text transform="translate(304.5,433.4) scale(0.87,1)" text-anchor="middle">600</text>
<text transform="translate(364.5,433.4) scale(0.87,1)" text-anchor="middle">700</text>
<text transform="translate(424.5,433.4) scale(0.87,1)" text-anchor="middle">800</text>
<text transform="translate(484.5,433.4) scale(0.87,1)" text-anchor="middle">900</text>
<text transform="translate(543.5,433.4) scale(0.87,1)" text-anchor="middle">1000</text>
<text transform="translate(603.5,433.4) scale(0.87,1)" text-anchor="middle">1100</text>
</g>
<g font-family="'Liberation Sans', Arial, sans-serif" fill="#000">
<text font-size="16.5" transform="translate(58.5,238.8) rotate(-90)" text-anchor="middle" letter-spacing="0.45">Optical Density</text>
<text font-size="17" x="342" y="460.7" letter-spacing="0.9"><tspan font-family="'Liberation Serif', 'DejaVu Serif', serif" font-size="14">λ</tspan>(nm)</text>
</g>
<rect x="521.5" y="21.5" width="100" height="213" fill="#fff" stroke="#000" stroke-width="1" shape-rendering="crispEdges"/>
<g shape-rendering="crispEdges">
<rect x="522" y="31" width="39" height="1" fill="#000000"/>
<rect x="522" y="53" width="39" height="1" fill="#ff0000"/>
<rect x="522" y="74" width="39" height="1" fill="#0000ff"/>
<rect x="522" y="96" width="39" height="1" fill="#008080"/>
<rect x="522" y="117" width="39" height="1" fill="#ff00ff"/>
<rect x="522" y="139" width="39" height="1" fill="#808000"/>
<rect x="522" y="160" width="39" height="1" fill="#000080"/>
<rect x="522" y="182" width="39" height="1" fill="#800000"/>
<rect x="522" y="203" width="39" height="1" fill="#ff0080"/>
<rect x="522" y="225" width="39" height="1" fill="#008000"/>
</g>
<g font-family="'Liberation Sans', Arial, sans-serif" font-size="16" fill="#000" letter-spacing="1.35">
<text transform="translate(566,36.7) scale(0.96,1)">UV709</text>
<text transform="translate(566,58.7) scale(0.96,1)">UV740</text>
<text transform="translate(566,79.7) scale(0.96,1)">IR779</text>
<text transform="translate(566,101.7) scale(0.96,1)">IR798</text>
<text transform="translate(566,122.7) scale(0.96,1)">IR810</text>
<text transform="translate(566,144.7) scale(0.96,1)">IR846</text>
<text transform="translate(566,165.7) scale(0.96,1)">IR852</text>
<text transform="translate(566,187.7) scale(0.96,1)">IR880</text>
<text transform="translate(566,208.7) scale(0.96,1)">IR932</text>
<text transform="translate(566,230.7) scale(0.96,1)">IR960</text>
</g>
</svg>
</body>
</html>
